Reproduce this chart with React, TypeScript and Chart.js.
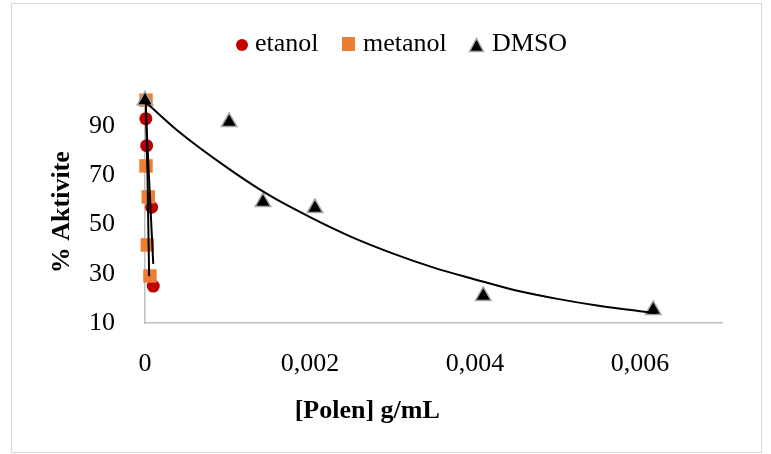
import React, { useEffect, useRef } from 'react';
import { Chart, registerables } from 'chart.js';

Chart.register(...registerables);

// ---- data ----
const etanolX = [0.00001, 0.00002, 0.00008, 0.0001];
const etanolY = [93, 82, 57, 25];
const metanolX = [0.000012, 0.000012, 0.00004, 0.000028, 0.00006];
const metanolY = [100.5, 73.8, 61.2, 41.7, 29.1];
const dmsoX = [0, 0.00102, 0.00143, 0.00206, 0.0041, 0.00616];
const dmsoY = [100.4, 91.6, 59.1, 56.7, 21, 15.3];

// trendlines as they appear in the picture
const dmsoTrendX = [0, 0.0004, 0.001, 0.0015, 0.002, 0.0025, 0.003, 0.0035, 0.004, 0.0045, 0.005, 0.0055, 0.006, 0.0062];
const dmsoTrendY = [100, 88, 73, 62, 53, 45, 38.3, 32.5, 27.7, 23.2, 19.8, 17, 14.8, 14];
const etanolTrendX = [0.00001, 0.00005, 0.0001];
const etanolTrendY = [96, 68, 34];
const metanolTrendX = [0.00001, 0.00003, 0.00005];
const metanolTrendY = [100, 70, 29];

const xTickValues = [0, 0.002, 0.004, 0.006];
const xTickLabels = ['0', '0,002', '0,004', '0,006'];
const yTickValues = [10, 30, 50, 70, 90];
const yTickLabels = ['10', '30', '50', '70', '90'];

const seriesNames = ['etanol', 'metanol', 'DMSO'];
const xTitle = '[Polen] g/mL';
const yTitle = '% Aktivite';

const FONT = '"Liberation Serif", "Times New Roman", serif';

const pts = (xs: number[], ys: number[]) => xs.map((x, i) => ({ x, y: ys[i] }));

export default function App() {
  const ref = useRef<HTMLCanvasElement | null>(null);

  useEffect(() => {
    if (!ref.current) return;
    const trendBase = {
      showLine: true,
      pointRadius: 0,
      borderColor: '#000000',
      backgroundColor: '#000000',
      borderWidth: 2,
      cubicInterpolationMode: 'monotone' as const,
      clip: false as const,
      order: 1,
    };
    const chart = new Chart(ref.current, {
      type: 'scatter',
      data: {
        datasets: [
          {
            label: seriesNames[0],
            data: pts(etanolX, etanolY),
            pointStyle: 'circle',
            pointRadius: 6.5,
            backgroundColor: '#c00000',
            borderColor: '#c00000',
            borderWidth: 0,
            clip: false,
            order: 4,
          },
          {
            label: seriesNames[1],
            data: pts(metanolX, metanolY),
            pointStyle: 'rect',
            pointRadius: 9.5,
            backgroundColor: '#ed7d31',
            borderColor: '#ed7d31',
            borderWidth: 0,
            clip: false,
            order: 3,
          },
          {
            label: seriesNames[2],
            data: pts(dmsoX, dmsoY),
            pointStyle: 'triangle',
            pointRadius: 9,
            backgroundColor: '#000000',
            borderColor: '#a6a6a6',
            borderWidth: 1.5,
            clip: false,
            order: 2,
          },
          { ...trendBase, label: 'trend DMSO', data: pts(dmsoTrendX, dmsoTrendY) },
          { ...trendBase, label: 'trend etanol', data: pts(etanolTrendX, etanolTrendY) },
          { ...trendBase, label: 'trend metanol', data: pts(metanolTrendX, metanolTrendY) },
        ] as any,
      },
      options: {
        animation: false,
        responsive: false,
        maintainAspectRatio: false,
        layout: { padding: { left: 12, right: 48.5, top: 101.4, bottom: 0 } },
        plugins: {
          legend: { display: false },
          tooltip: { enabled: false },
          title: {
            display: true,
            position: 'bottom',
            text: xTitle,
            color: '#000000',
            font: { family: FONT, size: 26, weight: 'bold' },
            padding: { top: 0, bottom: 27.4 },
          },
        },
        scales: {
          x: {
            type: 'linear',
            min: 0,
            max: 0.007,
            grid: { display: false },
            border: { display: true, color: '#bfbfbf', width: 1.5 },
            afterBuildTicks: (s: any) => {
              s.ticks = xTickValues.map((v) => ({ value: v }));
            },
            afterFit: (s: any) => {
              s.height = 72.4;
            },
            ticks: {
              autoSkip: false,
              maxRotation: 0,
              padding: 18,
              color: '#000000',
              font: { family: FONT, size: 26 },
              callback: (v: any) => {
                const i = xTickValues.findIndex((t) => Math.abs(t - Number(v)) < 1e-9);
                return i >= 0 ? xTickLabels[i] : '';
              },
            },
          },
          y: {
            type: 'linear',
            min: 10,
            max: 100,
            grid: { display: false },
            border: { display: true, color: '#bfbfbf', width: 1.5 },
            afterBuildTicks: (s: any) => {
              s.ticks = yTickValues.map((v) => ({ value: v }));
            },
            afterFit: (s: any) => {
              s.width = 133;
            },
            ticks: {
              autoSkip: false,
              padding: 22,
              color: '#000000',
              font: { family: FONT, size: 26 },
              callback: (v: any) => {
                const i = yTickValues.indexOf(Number(v));
                return i >= 0 ? yTickLabels[i] : '';
              },
            },
            title: {
              display: true,
              text: yTitle,
              color: '#000000',
              font: { family: FONT, size: 26, weight: 'bold' },
              padding: { top: 34.4, bottom: 0 },
            },
          },
        },
      } as any,
    });
    return () => chart.destroy();
  }, []);

  const textStyle: React.CSSProperties = {
    position: 'absolute',
    top: 30,
    fontFamily: FONT,
    fontSize: 26,
    lineHeight: '26px',
    color: '#000',
    whiteSpace: 'nowrap',
  };

  return (
    <div style={{ position: 'absolute', left: 0, top: 0, width: 771, height: 454, background: '#fff', overflow: 'hidden' }}>
      <div
        style={{
          position: 'absolute',
          left: 11,
          top: 3,
          width: 751,
          height: 450,
          border: '1px solid #d9d9d9',
          boxSizing: 'border-box',
        }}
      />
      <canvas ref={ref} width={771} height={454} style={{ position: 'absolute', left: 0, top: 0, width: 771, height: 454, display: 'block' }} />
      {/* legend */}
      <div style={{ position: 'absolute', left: 235.5, top: 39, width: 12, height: 12, borderRadius: '50%', background: '#c00000' }} />
      <span style={{ ...textStyle, left: 255 }}>{seriesNames[0]}</span>
      <div style={{ position: 'absolute', left: 342, top: 37, width: 13, height: 14, background: '#ed7d31' }} />
      <span style={{ ...textStyle, left: 363 }}>{seriesNames[1]}</span>
      <svg style={{ position: 'absolute', left: 468, top: 37 }} width={17} height={16}>
        <polygon points="8.5,1.5 15.5,14.5 1.5,14.5" fill="#000" stroke="#a6a6a6" strokeWidth={1.5} />
      </svg>
      <span style={{ ...textStyle, left: 492 }}>{seriesNames[2]}</span>
    </div>
  );
}
